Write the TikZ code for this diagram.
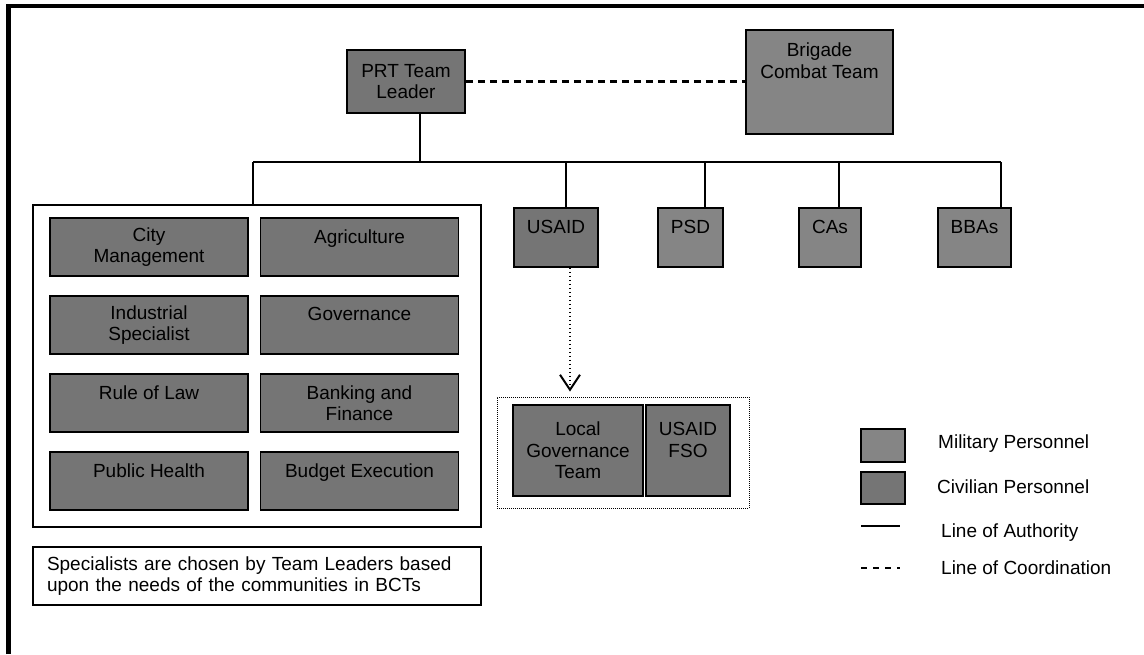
\documentclass[tikz,border=0pt]{standalone}
\usepackage{fontspec}
\setmainfont{Liberation Sans}
\usetikzlibrary{positioning, arrows.meta}

\definecolor{civgray}{gray}{0.46}
\definecolor{milgray}{gray}{0.52}

\tikzset{
  unit/.style = {draw, line width=1.5pt, inner sep=0pt, align=center},
  civ/.style = {unit, fill=civgray},
  mil/.style = {unit, fill=milgray},
  spec/.style = {civ, minimum width=198pt, minimum height=58pt},
  frame/.style = {draw, line width=1.5pt, inner sep=0pt},
  authority/.style = {line width=1.5pt},
  coordination/.style = {line width=2.2pt, dash pattern=on 7.5pt off 4.5pt},
  keytext/.style = {anchor=west, inner sep=0pt},
}

\begin{document}
\begin{tikzpicture}[x=1pt, y=-1pt, font=\fontsize{19}{21.5}\selectfont, node distance=18.5pt and 11pt]
  \useasboundingbox (0,0) rectangle (1144,654);
  % outer border (only top and left show)
  \draw[line width=4.5pt] (8.5,654) -- (8.5,6) -- (1144,6);

  % command
  \node[civ, minimum width=118pt, minimum height=63pt] (leader) at (406,81.5) {PRT Team\\Leader};
  \node[mil, minimum width=147pt, minimum height=104pt] (bct) at (819.5,82) {Brigade\\Combat Team\\\mbox{}\\\mbox{}};
  \draw[coordination] (leader.east) -- (leader.east -| bct.west);

  % specialists
  \node[frame, minimum width=448pt, minimum height=322pt] (specs) at (257,366) {};
  \node[spec] (city) at (149,247) {City\\Management};
  \node[spec] (agri) [right = of city] {Agriculture\\\mbox{}};
  \node[spec] (industry) [below = of city] {Industrial\\Specialist};
  \node[spec] (gov) [right = of industry] {Governance\\\mbox{}};
  \node[spec] (law) [below = of industry] {Rule of Law\\\mbox{}};
  \node[spec] (bank) [right = of law] {Banking and\\Finance};
  \node[spec] (health) [below = of law] {Public Health\\\mbox{}};
  \node[spec] (budget) [right = of health] {Budget Execution\\\mbox{}};
  \node[frame, minimum width=448pt, minimum height=58pt, text width=420pt, inner xsep=14pt, align=left] (note) at (257,576)
    {Specialists are chosen by Team Leaders based\\upon the needs of the communities in BCTs};

  % staff elements
  \node[civ, minimum width=84pt, minimum height=59pt] (usaid) at (556,237.5) {USAID\\\mbox{}};
  \node[mil, minimum width=65pt, minimum height=59pt] (psd) at (690.5,237.5) {PSD\\\mbox{}};
  \node[mil, minimum width=62pt, minimum height=59pt] (cas) at (830,237.5) {CAs\\\mbox{}};
  \node[mil, minimum width=73pt, minimum height=59pt] (bbas) at (974.5,237.5) {BBAs\\\mbox{}};

  % lines of authority
  \coordinate (drop0) at (253,162);
  \coordinate (drop1) at (566,162);
  \coordinate (drop2) at (705,162);
  \coordinate (drop3) at (839,162);
  \coordinate (drop4) at (1001,162);
  \draw[authority] ([xshift=14pt]leader.south) -- ([xshift=14pt]leader.south |- drop0);
  \draw[authority] (drop0) -- (drop4);
  \foreach \d/\n in {drop0/specs, drop1/usaid, drop2/psd, drop3/cas, drop4/bbas}
    \draw[authority] (\d) -- (\d |- \n.north);

  % usaid team
  \node[draw, line width=0.9pt, dash pattern=on 1pt off 1pt, minimum width=252pt, minimum height=111pt] (lgframe) at (623,452.5) {};
  \node[civ, minimum width=130pt, minimum height=91pt] (lgt) at (578,450.5) {Local\\Governance\\Team};
  \node[civ, minimum width=84pt, minimum height=91pt] (fso) at (688,450.5) {USAID\\FSO\\\mbox{}};
  \draw[line width=2.6pt, dash pattern=on 1.4pt off 2.6pt, shorten >=5pt,
        -{Straight Barb[length=15pt, width=20pt, line width=2pt]}]
    ([xshift=14pt]usaid.south) -- ([xshift=14pt]usaid.south |- lgframe.north);

  % key
  \node[mil, minimum width=44pt, minimum height=33pt] (milkey) at (883,445.5) {};
  \node[civ, minimum width=44pt, minimum height=32pt] (civkey) at (883,488) {};
  \node[keytext] (miltext) at (938,444) {Military Personnel};
  \node[keytext] (civtext) at (937,487) {Civilian Personnel};
  \coordinate (authkey) at (861,526);
  \draw[authority] (authkey) -- ++(39,0);
  \node[keytext] (authtext) at (941,533) {Line of Authority};
  \coordinate (coordkey) at (861,568);
  \draw[line width=1.5pt, dash pattern=on 6pt off 6pt] (coordkey) -- ++(39,0);
  \node[keytext] (coordtext) at (941,568) {Line of Coordination};
\end{tikzpicture}
\end{document}
